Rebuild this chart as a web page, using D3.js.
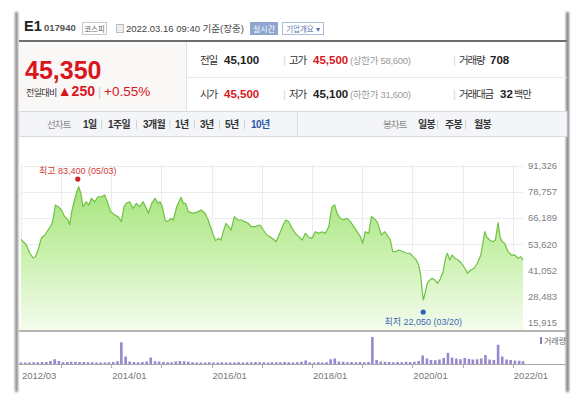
<!DOCTYPE html>
<html><head><meta charset="utf-8">
<script src="https://cdn.jsdelivr.net/npm/d3@7"></script>
<style>
html,body{margin:0;padding:0;background:#fff;}
svg{display:block;}
text{font-family:"Liberation Sans","Noto Sans CJK KR",Arial,sans-serif;}
</style></head><body><div id="chart"></div>
<script>
// ---------- data ----------
const priceDates = [
 "2012-03-16","2012-04-24","2012-05-19","2012-06-12","2012-06-29","2012-07-18","2012-08-11","2012-09-05","2012-09-29","2012-10-23","2012-11-04","2012-11-21","2012-12-11",
 "2013-01-04","2013-01-28","2013-02-21","2013-03-06","2013-03-17","2013-04-06","2013-04-23","2013-05-10","2013-05-25","2013-06-10","2013-07-04","2013-07-22","2013-08-10","2013-09-03","2013-09-27","2013-10-21","2013-11-15","2013-12-04","2013-12-29",
 "2014-01-27","2014-02-20","2014-03-16","2014-04-05","2014-04-21","2014-05-16","2014-06-09","2014-07-03","2014-07-28","2014-08-21","2014-09-14","2014-09-28","2014-10-23","2014-11-16","2014-12-06","2014-12-22",
 "2015-01-08","2015-01-28","2015-02-16","2015-03-12","2015-03-29","2015-04-23","2015-05-24","2015-06-10","2015-06-27","2015-07-16","2015-08-21","2015-09-27","2015-10-16","2015-11-14","2015-12-08",
 "2016-01-02","2016-01-14","2016-01-31","2016-02-19","2016-03-10","2016-03-27","2016-04-14","2016-05-03","2016-05-22","2016-06-15","2016-07-10","2016-08-08","2016-08-27","2016-09-25","2016-10-15","2016-11-13","2016-12-19",
 "2017-01-12","2017-02-06","2017-03-02","2017-04-02","2017-04-15","2017-05-16","2017-06-10","2017-06-26","2017-07-16","2017-08-09","2017-09-02","2017-09-27","2017-10-21","2017-11-14","2017-12-03",
 "2018-01-01","2018-01-25","2018-02-19","2018-03-15","2018-04-08","2018-05-03","2018-05-14","2018-05-27","2018-06-15","2018-07-02","2018-07-26","2018-08-20","2018-09-13","2018-10-07","2018-11-01","2018-11-25","2018-12-19",
 "2019-01-05","2019-01-24","2019-02-18","2019-03-09","2019-03-26","2019-04-19","2019-05-06","2019-05-20","2019-06-14","2019-07-01","2019-07-25","2019-08-11","2019-09-04","2019-09-24","2019-10-25","2019-11-18","2019-12-13",
 "2020-01-06","2020-01-30","2020-02-16","2020-03-03","2020-03-12","2020-03-21","2020-04-05","2020-04-19","2020-05-07","2020-05-24","2020-06-12","2020-07-01","2020-07-19","2020-08-12","2020-08-29","2020-09-12","2020-09-30","2020-10-16","2020-11-05","2020-11-29","2020-12-23",
 "2021-01-17","2021-02-05","2021-03-01","2021-03-25","2021-04-18","2021-05-13","2021-05-30","2021-06-11","2021-06-23","2021-07-17","2021-08-10","2021-08-27","2021-09-16","2021-09-30","2021-10-15","2021-11-03","2021-11-27","2021-12-21",
 "2022-01-15","2022-02-08","2022-02-28","2022-03-16"
];
const priceValues = [
 55950,53200,49250,47000,47600,50800,56550,58000,60400,62800,65200,72400,71600,
 70000,66800,65200,62800,68400,73950,78000,81150,78000,71600,73950,72400,75600,73950,76350,76350,77200,73950,69200,
 67600,66800,64400,71600,73200,73950,70800,73200,71600,73950,70800,68400,73200,75600,73200,73950,
 71600,65200,64400,66000,65200,71600,76100,73200,73200,69200,68400,69200,70000,68400,65200,
 60400,58000,55300,56400,55600,59600,63600,62000,60400,66800,65200,65200,64400,63600,62000,62000,62800,
 60400,58000,57200,55600,54800,59600,63600,65200,64400,61200,58800,57200,55600,58800,57200,
 56400,59600,58800,59600,58800,62000,66800,71600,72400,68400,66000,65200,66000,64400,62000,59600,57200,
 54050,59600,58800,66800,66000,64400,61200,58000,59600,58000,55600,50000,50000,50800,50000,49250,49250,
 47600,46000,43600,38000,31650,26850,30850,34850,36450,37250,36450,34850,36450,40400,46850,49250,46000,48400,46850,46000,44450,
 42050,39650,41250,42050,44450,48400,54800,59600,57200,55600,54800,55600,63900,57200,54800,54050,50000,48400,
 48400,46850,47600,46000
];
// monthly volume (thousand shares), starting 2012-03
const volumeStart = "2012-03-16";
const volumeValues = [
 30,30,30,35,35,40,40,60,95,60, 35,40,45,45,40,40,35,35,30,30,
 30,35,40,55,435,150,50,40,35,40, 50,130,55,50,40,35,35,50,60,55,
 45,35,30,30,30,35,30,30,35,30, 30,30,35,30,35,35,40,35,35,30,
 35,35,35,40,35,30,35,45,70,35, 30,35,30,35,95,110,50,45,35,40,
 35,40,35,40,540,80,50,45,40,35, 40,35,45,40,45,60,170,110,80,75,
 90,120,225,130,110,95,120,100,90,95, 110,180,90,80,385,150,90,80,70,65,
 55
];
const yTickValues = [91326, 78757, 66189, 53620, 41052, 28483, 15915];
const xTickDates = ["2013-01-01","2014-01-01","2015-01-01","2016-01-01","2017-01-01","2018-01-01","2019-01-01","2020-01-01","2021-01-01","2022-01-01"];
const xLabelDates = ["2012-03-16","2014-01-01","2016-01-01","2018-01-01","2020-01-01","2022-01-01"];
const xLabelTexts = ["2012/03","2014/01","2016/01","2018/01","2020/01","2022/01"];
const highPoint = {date:"2013-05-03", value:83400, label:"최고 83,400 (05/03)"};
const lowPoint = {date:"2020-03-20", value:22050, label:"최저 22,050 (03/20)"};
const rangeButtons = ["1일","1주일","3개월","1년","3년","5년","10년"];
const candleButtons = ["일봉","주봉","월봉"];

// ---------- layout ----------
const W = 580, H = 398;
const parse = d3.timeParse("%Y-%m-%d");
const svg = d3.select("#chart").append("svg").attr("width", W).attr("height", H);
const defs = svg.append("defs");
const blur = defs.append("filter").attr("id","blur").attr("x","-50%").attr("width","200%");
blur.append("feGaussianBlur").attr("stdDeviation", 0.8);

// side borders (shadow-like)
svg.append("rect").attr("x",15).attr("y",12).attr("width",3).attr("height",380).attr("fill","#8a8a8a").attr("filter","url(#blur)");
svg.append("rect").attr("x",566).attr("y",12).attr("width",3).attr("height",380).attr("fill","#7e7e7e").attr("filter","url(#blur)");

// ---------- header ----------
const head = svg.append("g");
head.append("text").attr("x",24).attr("y",31).attr("font-size",14.5).attr("font-weight","bold").attr("fill","#222").text("E1");
head.append("text").attr("x",44).attr("y",31).attr("font-size",9.5).attr("font-weight","bold").attr("fill","#555").text("017940");
head.append("rect").attr("x",82.5).attr("y",22.5).attr("width",24).attr("height",12).attr("fill","#fff").attr("stroke","#c8c8c8");
head.append("text").attr("x",94.5).attr("y",31.5).attr("font-size",7.5).attr("fill","#666").attr("text-anchor","middle").text("코스피");
head.append("rect").attr("x",116.5).attr("y",24.5).attr("width",7).attr("height",8).attr("fill","#eee").attr("stroke","#bbb");
head.append("text").attr("x",126).attr("y",31.5).attr("font-size",9.5).attr("fill","#444").text("2022.03.16 09:40 기준(장중)");
head.append("rect").attr("x",250).attr("y",22).attr("width",28).attr("height",13).attr("fill","#8ea5cf");
head.append("text").attr("x",264).attr("y",31.5).attr("font-size",8).attr("fill","#fff").attr("text-anchor","middle").text("실시간");
head.append("rect").attr("x",282.5).attr("y",22.5).attr("width",41).attr("height",12).attr("fill","#fff").attr("stroke","#a9bcdc");
head.append("text").attr("x",303).attr("y",31.5).attr("font-size",7.5).attr("fill","#5b78ad").attr("text-anchor","middle").text("기업개요 ▾");
head.append("rect").attr("x",19).attr("y",40).attr("width",548).attr("height",2).attr("fill","#6e6e6e");

// price box
head.append("rect").attr("x",19).attr("y",42).attr("width",167).attr("height",70).attr("fill","#faf7f7");
head.append("line").attr("x1",186.5).attr("x2",186.5).attr("y1",42).attr("y2",112).attr("stroke","#e2e2e2");
head.append("line").attr("x1",187).attr("x2",567).attr("y1",77.5).attr("y2",77.5).attr("stroke","#e8e8e8");
head.append("text").attr("x",25).attr("y",79).attr("font-size",25).attr("font-weight","bold").attr("fill","#d9161c").text("45,350");
const chg = head.append("text").attr("x",26).attr("y",96).attr("fill","#d9161c");
chg.append("tspan").attr("font-size",9).attr("letter-spacing",-0.6).attr("fill","#333").text("전일대비");
chg.append("tspan").attr("dx",1).attr("font-size",14).attr("font-weight","bold").text("▲250");
chg.append("tspan").attr("dx",3).attr("font-size",12).attr("fill","#ccc").text("|");
chg.append("tspan").attr("dx",3).attr("font-size",13.5).text("+0.55%");

function label(x, y, s) {
  head.append("text").attr("x",x).attr("y",y).attr("font-size",10.5).attr("letter-spacing",-1.2).attr("fill","#333").text(s);
}
function value(x, y, s, color) {
  head.append("text").attr("x",x).attr("y",y).attr("font-size",11.5).attr("font-weight","bold").attr("fill",color).text(s);
}
function extra(x, y, s) {
  head.append("text").attr("x",x).attr("y",y).attr("font-size",9.5).attr("letter-spacing",-0.3).attr("fill","#9a9a9a").text(s);
}
function sep(x, y) { head.append("text").attr("x",x).attr("y",y).attr("font-size",11).attr("fill","#d5d5d5").text("|"); }
label(200, 64, "전일"); value(224, 64, "45,100", "#222");
sep(283, 64); label(289, 64, "고가"); value(313, 64, "45,500", "#d9161c"); extra(350, 64, "(상한가 58,600)");
sep(453, 64); label(459, 64, "거래량"); value(490, 64, "708", "#222");
label(200, 98, "시가"); value(224, 98, "45,500", "#d9161c");
sep(283, 98); label(289, 98, "저가"); value(313, 98, "45,100", "#222"); extra(350, 98, "(하한가 31,600)");
sep(453, 98); label(459, 98, "거래대금"); value(500, 98, "32", "#222");
head.append("text").attr("x",514).attr("y",98).attr("font-size",10).attr("letter-spacing",-0.8).attr("fill","#333").text("백만");

// toolbar
head.append("rect").attr("x",19).attr("y",111.5).attr("width",548).attr("height",25).attr("fill","#f3f5f8").attr("stroke","#d8dce2");
head.append("line").attr("x1",297.5).attr("x2",297.5).attr("y1",112).attr("y2",136).attr("stroke","#d8dce2");
const rangeX = [83,108,143,175,200,225,251];
const rangeSepX = [101,136,169.5,194,219,244];
const candleX = [418,445,474];
const candleSepX = [437,465];
function toolbar(gx, gtext, items, xs, seps) {
  head.append("text").attr("x",gx).attr("y",128).attr("font-size",9.5).attr("letter-spacing",-0.9).attr("fill","#8a8a8a").text(gtext);
  items.forEach((b,i) => {
    head.append("text").attr("x",xs[i]).attr("y",128).attr("font-size",10).attr("letter-spacing",-0.6).attr("font-weight","bold")
      .attr("fill", b==="10년" ? "#2b58a6" : "#333").text(b);
  });
  seps.forEach(s => head.append("line").attr("x1",s+0.5).attr("x2",s+0.5).attr("y1",120).attr("y2",129).attr("stroke","#d3d3d3"));
}
toolbar(47, "선차트", rangeButtons, rangeX, rangeSepX);
toolbar(383, "봉차트", candleButtons, candleX, candleSepX);

// ---------- price chart ----------
const x = d3.scaleTime().domain([parse("2012-03-16"), parse("2022-03-16")]).range([21, 523]);
const y = d3.scaleLinear().domain([15915, 91326]).range([322.8, 165.5]);
const plotBottom = 331;
const data = priceDates.map((d,i) => ({date: parse(d), value: priceValues[i]}));

const grad = defs.append("linearGradient").attr("id","fillG").attr("gradientUnits","userSpaceOnUse")
  .attr("x1",0).attr("x2",0).attr("y1",185).attr("y2",plotBottom);
grad.append("stop").attr("offset",0).attr("stop-color","#a4e47a");
grad.append("stop").attr("offset",0.5).attr("stop-color","#ccf1b1");
grad.append("stop").attr("offset",1).attr("stop-color","#f4fcee");

const grid = svg.append("g");
grid.selectAll("line.h").data(yTickValues).join("line")
  .attr("x1",21).attr("x2",523).attr("y1",d=>Math.round(y(d))+0.5).attr("y2",d=>Math.round(y(d))+0.5)
  .attr("stroke","#ececec");
grid.selectAll("line.v").data([xLabelDates[0]].concat(xTickDates)).join("line")
  .attr("x1",d=>Math.round(x(parse(d)))+0.5).attr("x2",d=>Math.round(x(parse(d)))+0.5)
  .attr("y1",165).attr("y2",plotBottom).attr("stroke","#ececec");

svg.append("path").datum(data)
  .attr("d", d3.area().x(d=>x(d.date)).y0(plotBottom).y1(d=>y(d.value)))
  .attr("fill","url(#fillG)");
svg.append("path").datum(data)
  .attr("d", d3.line().x(d=>x(d.date)).y(d=>y(d.value)))
  .attr("fill","none").attr("stroke","#6fc241").attr("stroke-width",1.2).attr("stroke-linejoin","round");

// y axis labels
svg.append("g").selectAll("text").data(yTickValues).join("text")
  .attr("x",528).attr("y",d=>y(d)+3.5).attr("font-size",9.5).attr("fill","#808080")
  .text(d=>d3.format(",")(d));

// high / low markers
const hx = x(parse(highPoint.date)), hy = y(highPoint.value) - 3;
svg.append("circle").attr("cx",hx).attr("cy",hy).attr("r",2.6).attr("fill","#d42020");
svg.append("text").attr("x",hx).attr("y",hy-5).attr("text-anchor","middle").attr("font-size",9).attr("fill","#d33a3a").text(highPoint.label);
const lx = x(parse(lowPoint.date)), ly = y(lowPoint.value) + 2;
svg.append("circle").attr("cx",lx).attr("cy",ly).attr("r",2.6).attr("fill","#2b62bb");
svg.append("text").attr("x",lx).attr("y",ly+12.5).attr("text-anchor","middle").attr("font-size",9).attr("fill","#3c69b5").text(lowPoint.label);

// chart bottom border
svg.append("rect").attr("x",19).attr("y",330).attr("width",548).attr("height",2).attr("fill","#b4b4b4");

// ---------- volume ----------
const vBase = 364;
const yv = d3.scaleLinear().domain([0, 600]).range([vBase, 334]);
const vStart = parse(volumeStart);
const vol = volumeValues.map((v,i) => ({date: d3.timeMonth.offset(vStart, i), value: v}));
svg.append("g").selectAll("rect").data(vol).join("rect")
  .attr("x", d => x(d.date) - 1.3).attr("width", 2.6)
  .attr("y", d => yv(d.value)).attr("height", d => vBase - yv(d.value))
  .attr("fill","#9a88cf");
svg.append("line").attr("x1",19).attr("x2",567).attr("y1",vBase+0.5).attr("y2",vBase+0.5).attr("stroke","#a8a8a8");
svg.append("g").selectAll("line").data(xTickDates).join("line")
  .attr("x1",d=>Math.round(x(parse(d)))+0.5).attr("x2",d=>Math.round(x(parse(d)))+0.5)
  .attr("y1",vBase).attr("y2",vBase+4).attr("stroke","#a8a8a8");
svg.append("g").selectAll("text").data(xLabelDates).join("text")
  .attr("x",d=>x(parse(d))+1).attr("y",379).attr("font-size",9.5).attr("fill","#777")
  .text((d,i)=>xLabelTexts[i]);
// volume legend
svg.append("rect").attr("x",540).attr("y",337).attr("width",2).attr("height",7).attr("fill","#8d7cc4");
svg.append("text").attr("x",544).attr("y",344).attr("font-size",8).attr("fill","#666").text("거래량");
</script></body></html>
